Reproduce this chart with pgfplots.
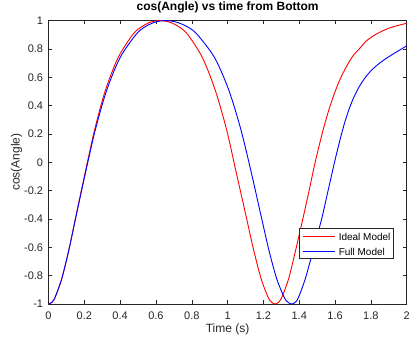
\documentclass[border=0pt]{standalone}
\usepackage{pgfplots}
\pgfplotsset{compat=1.18}
\usepackage{fontspec}
\setmainfont{Liberation Sans}
\definecolor{axgray}{rgb}{0.15,0.15,0.15}
\begin{document}
\begin{tikzpicture}
\begin{axis}[
  at={(0,0)}, anchor=south west,
  scale only axis, width=358.2pt, height=283.4pt,
  xmin=0, xmax=2, ymin=-1, ymax=1,
  xtick={0,0.2,0.4,0.6,0.8,1,1.2,1.4,1.6,1.8,2},
  ytick={-1,-0.8,-0.6,-0.4,-0.2,0,0.2,0.4,0.6,0.8,1},
  tick align=inside,
  major tick length=3.5pt,
  axis line style={axgray, line width=0.5pt},
  every tick/.style={axgray, line width=0.5pt},
  /pgf/number format/assume math mode=true,
  ticklabel style={font=\fontsize{11}{13}\selectfont, text=axgray},
  xticklabel style={anchor=base, inner sep=0pt, yshift=-15.5pt},
  yticklabel style={anchor=east, inner sep=0pt, xshift=-5.2pt},
  title={cos(Angle) vs time from Bottom},
  title style={at={(axis description cs:0.5,1.0162)}, anchor=base, inner sep=0pt, font=\fontsize{12}{14}\selectfont\bfseries, text=black},
  xlabel={Time (s)},
  ylabel={cos(Angle)},
  xlabel style={at={(axis description cs:0.5,-0.1023)}, anchor=base, inner sep=0pt, font=\fontsize{12}{14}\selectfont, text=axgray},
  ylabel style={at={(axis description cs:-0.0807,0.5)}, anchor=base, inner sep=0pt, font=\fontsize{12}{14}\selectfont, text=axgray},
  legend cell align=left,
  legend image code/.code={},
  legend style={at={(axis description cs:0.7002,0.2671)}, anchor=north west,
    draw=axgray, line width=0.5pt, fill=white,
    font=\fontsize{10}{12}\selectfont,
    inner xsep=2.6pt, inner ysep=1pt, row sep=2pt, column sep=0pt,
    nodes={inner sep=0pt, text height=11.2pt, text depth=1.8pt}},
]
\addplot[draw=red, line width=0.9pt, smooth] coordinates {
(0,-1) (0.018,-0.989) (0.036,-0.955) (0.073,-0.825) (0.113,-0.622) (0.156,-0.362)
(0.205,-0.071) (0.257,0.227) (0.317,0.505) (0.388,0.737) (0.472,0.904) (0.522,0.958)
(0.571,0.990) (0.620,1) (0.674,0.990) (0.726,0.958) (0.776,0.904) (0.860,0.737)
(0.932,0.505) (0.995,0.227) (1.048,-0.071) (1.100,-0.362) (1.146,-0.622) (1.188,-0.825)
(1.227,-0.955) (1.247,-0.989) (1.265,-1) (1.283,-0.989) (1.302,-0.955) (1.340,-0.825)
(1.380,-0.62) (1.420,-0.4) (1.455,-0.2) (1.489,0) (1.533,0.227) (1.577,0.416)
(1.629,0.589) (1.692,0.737) (1.735,0.80) (1.775,0.857) (1.829,0.904) (1.897,0.945)
(1.95,0.965) (2.0,0.981)
};
\addlegendentry{\textcolor{red}{\tikz[baseline=0pt]\draw[draw=red, line width=1pt] (0pt,3.8pt) -- (32pt,3.8pt);}\hspace{3.6pt}Ideal Model}
\addplot[draw=blue, line width=0.9pt, smooth] coordinates {
(0,-1) (0.018,-0.989) (0.036,-0.955) (0.073,-0.826) (0.113,-0.623) (0.157,-0.362)
(0.207,-0.071) (0.261,0.227) (0.324,0.505) (0.399,0.737) (0.490,0.904) (0.541,0.958)
(0.597,0.990) (0.651,1) (0.712,0.990) (0.773,0.958) (0.829,0.904) (0.928,0.737)
(1.008,0.505) (1.075,0.227) (1.132,-0.071) (1.184,-0.362) (1.231,-0.622) (1.275,-0.825)
(1.317,-0.955) (1.338,-0.989) (1.358,-1) (1.377,-0.989) (1.395,-0.955) (1.433,-0.825)
(1.480,-0.61) (1.525,-0.4) (1.561,-0.2) (1.597,0) (1.625,0.146) (1.65,0.264)
(1.675,0.364) (1.70,0.445) (1.725,0.511) (1.75,0.565) (1.775,0.609) (1.80,0.645)
(1.825,0.675) (1.85,0.701) (1.875,0.724) (1.90,0.745) (1.925,0.765) (1.95,0.784)
(1.975,0.803) (2.0,0.822)
};
\addlegendentry{\textcolor{blue}{\tikz[baseline=0pt]\draw[draw=blue, line width=1pt] (0pt,3.8pt) -- (32pt,3.8pt);}\hspace{3.6pt}Full Model}
\end{axis}
\pgfresetboundingbox
\path[use as bounding box] (-48.5pt,-33pt) rectangle (360.5pt,304pt);
\end{tikzpicture}
\end{document}
